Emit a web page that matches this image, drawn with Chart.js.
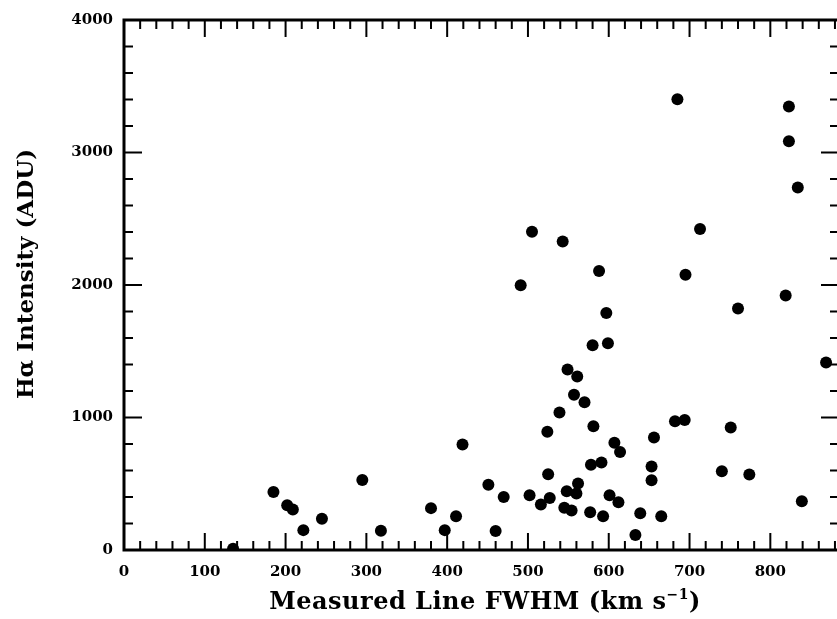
<!DOCTYPE html>
<html>
<head>
<meta charset="utf-8">
<script src="https://cdn.jsdelivr.net/npm/chart.js@4.4.0/dist/chart.umd.min.js"></script>
<style>
html, body { margin: 0; padding: 0; background: #fff; overflow: hidden; }
#wrap { position: relative; width: 837px; height: 619px; overflow: hidden; }
#myChart { position: absolute; left: 0; top: 0; }
.axisTitle { position: absolute; font-family: "DejaVu Serif"; font-weight: bold; line-height: 28px; color: #000; white-space: nowrap; text-align: center; }
#xTitle { left: 235px; top: 587px; width: 500px; font-size: 24px; letter-spacing: 0.5px; }
#yTitle { left: -225px; top: 260px; width: 500px; font-size: 23px; transform: rotate(-90deg); }
#xTitle sup { font-size: 14px; line-height: 0; vertical-align: 10px; }
</style>
</head>
<body>
<div id="wrap">
  <canvas id="myChart" width="845" height="619"></canvas>
  <div class="axisTitle" id="xTitle">Measured Line FWHM (km s<sup>−1</sup>)</div>
  <div class="axisTitle" id="yTitle">Hα Intensity (ADU)</div>
</div>
<script>
// values
const fwhm = [135, 185, 202, 209, 222, 245, 295, 318, 380, 397, 411, 419, 451, 460, 470,
    491, 502, 505, 516, 524, 525, 527, 539, 543, 545, 548, 549, 554, 557, 560, 561, 562,
    570, 577, 578, 580, 581, 588, 591, 593, 597, 599, 601, 607, 612, 614, 633, 639, 653,
    653, 656, 665, 682, 685, 694, 695, 713, 740, 751, 760, 774, 819, 823, 823, 834, 839, 869];
const intensity = [10, 438, 338, 306, 150, 235, 528, 145, 316, 150, 254, 796, 493, 143, 400,
    1998, 413, 2402, 343, 892, 571, 393, 1037, 2329, 318, 443, 1362, 298, 1172, 426, 1310, 501,
    1115, 285, 644, 1545, 934, 2106, 661, 255, 1788, 1560, 413, 809, 361, 739, 113, 278, 631,
    526, 849, 255, 971, 3401, 982, 2077, 2422, 594, 924, 1823, 569, 1921, 3348, 3085, 2735, 368, 1415];
const xTicks = [0, 100, 200, 300, 400, 500, 600, 700, 800];
const yTicks = [0, 1000, 2000, 3000, 4000];
const xMax = 885;
const yMax = 4000;
const xMinor = 20;
const yMinor = 200;

// box round the plot with inward ticks on all four sides
const frameTicks = {
    id: 'frameTicks',
    afterDatasetsDraw(chart) {
        const ctx = chart.ctx;
        const a = chart.chartArea;
        const x = chart.scales.x, y = chart.scales.y;
        ctx.save();
        ctx.strokeStyle = '#000';
        ctx.lineWidth = 2;
        ctx.beginPath();
        for (let v = 0; v <= xMax; v += xMinor) {
            const px = x.getPixelForValue(v);
            const len = v % 100 === 0 ? 17 : 9;
            ctx.moveTo(px, a.bottom); ctx.lineTo(px, a.bottom - len);
            ctx.moveTo(px, a.top); ctx.lineTo(px, a.top + len);
        }
        for (let v = 0; v <= yMax; v += yMinor) {
            const py = y.getPixelForValue(v);
            const len = v % 1000 === 0 ? 18 : 9;
            ctx.moveTo(a.left, py); ctx.lineTo(a.left + len, py);
            ctx.moveTo(a.right, py); ctx.lineTo(a.right - len, py);
        }
        ctx.stroke();
        ctx.lineWidth = 3;
        ctx.strokeRect(a.left, a.top, a.right - a.left, a.bottom - a.top);
        ctx.restore();
    }
};

const tickFont = { family: 'DejaVu Serif', weight: 'bold', size: 15 };

const ctx = document.getElementById('myChart');
const myChart = new Chart(ctx, {
    type: 'scatter',
    data: {
        datasets: [{
            data: fwhm.map((v, i) => ({ x: v, y: intensity[i] })),
            pointRadius: 6,
            pointHoverRadius: 6,
            backgroundColor: '#000',
            borderColor: '#000',
            borderWidth: 0,
            clip: 0
        }]
    },
    options: {
        responsive: false,
        animation: false,
        devicePixelRatio: 1,
        layout: { padding: { top: 17, right: 5, left: 0, bottom: 0 } },
        plugins: { legend: { display: false }, tooltip: { enabled: false } },
        scales: {
            x: {
                type: 'linear',
                min: 0,
                max: xMax,
                afterBuildTicks: s => { s.ticks = xTicks.map(v => ({ value: v })); },
                afterFit: s => { s.height = 69; },
                grid: { display: false, drawTicks: false },
                border: { display: false },
                ticks: { color: '#000', font: tickFont, padding: 13, maxRotation: 0, autoSkip: false,
                    callback: v => String(v) }
            },
            y: {
                type: 'linear',
                min: 0,
                max: yMax,
                afterBuildTicks: s => { s.ticks = yTicks.map(v => ({ value: v })); },
                afterFit: s => { s.width = 124; },
                grid: { display: false, drawTicks: false },
                border: { display: false },
                ticks: { color: '#000', font: tickFont, padding: 11, autoSkip: false,
                    callback: v => String(v) }
            }
        }
    },
    plugins: [frameTicks]
});
</script>
</body>
</html>
